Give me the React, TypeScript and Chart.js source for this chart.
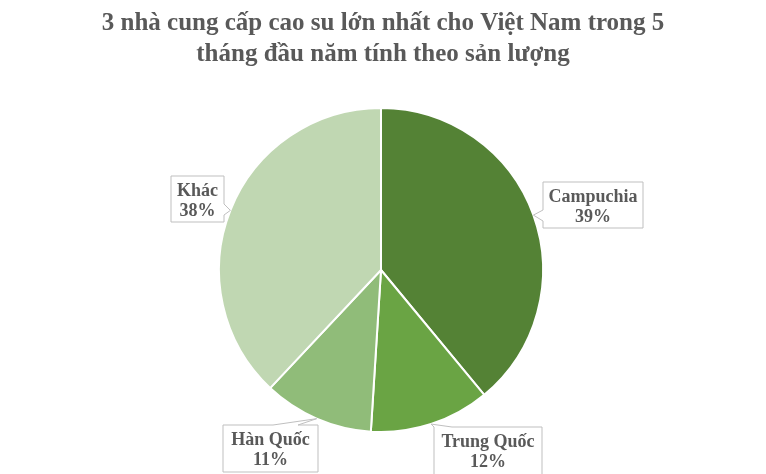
import { useEffect, useRef } from "react";
import { Chart, registerables } from "chart.js";

Chart.register(...registerables);

const titleLines = [
  "3 nhà cung cấp cao su lớn nhất cho Việt Nam trong 5",
  "tháng đầu năm tính theo sản lượng",
];
const labels = ["Campuchia", "Trung Quốc", "Hàn Quốc", "Khác"];
const shares = [39, 12, 11, 38];
const colors = ["#548235", "#6aa444", "#90bc79", "#c0d7b2"];

const TEXT = "#595959";
const SERIF = '"Liberation Serif", "Times New Roman", serif';

// callout boxes: rect + where the pointer leaves the box
const boxes = [
  { l: 543, t: 182, r: 643, b: 228, side: "left", a: 210, c: 221 },
  { l: 434, t: 427, r: 542, b: 476, side: "top", a: 434, c: 452 },
  { l: 223, t: 425, r: 318, b: 472, side: "top", a: 273, c: 298 },
  { l: 171, t: 176, r: 224, b: 222, side: "right", a: 204, c: 215 },
];

const calloutPlugin = {
  id: "callouts",
  afterDraw(chart: any) {
    const ctx = chart.ctx;
    const meta = chart.getDatasetMeta(0);
    ctx.save();
    // title
    ctx.fillStyle = TEXT;
    ctx.font = `bold 25px ${SERIF}`;
    ctx.textAlign = "center";
    ctx.textBaseline = "alphabetic";
    titleLines.forEach((line, i) => ctx.fillText(line, 383, 30 + i * 30.5));

    meta.data.forEach((arc: any, i: number) => {
      const bx = boxes[i];
      const mid = (arc.startAngle + arc.endAngle) / 2;
      const tx = arc.x + Math.cos(mid) * arc.outerRadius;
      const ty = arc.y + Math.sin(mid) * arc.outerRadius;
      ctx.beginPath();
      if (bx.side === "left") {
        ctx.moveTo(bx.l, bx.t);
        ctx.lineTo(bx.r, bx.t);
        ctx.lineTo(bx.r, bx.b);
        ctx.lineTo(bx.l, bx.b);
        ctx.lineTo(bx.l, bx.c);
        ctx.lineTo(tx, ty);
        ctx.lineTo(bx.l, bx.a);
      } else if (bx.side === "right") {
        ctx.moveTo(bx.l, bx.t);
        ctx.lineTo(bx.r, bx.t);
        ctx.lineTo(bx.r, bx.a);
        ctx.lineTo(tx, ty);
        ctx.lineTo(bx.r, bx.c);
        ctx.lineTo(bx.r, bx.b);
        ctx.lineTo(bx.l, bx.b);
      } else {
        ctx.moveTo(bx.l, bx.t);
        ctx.lineTo(bx.a, bx.t);
        ctx.lineTo(tx, ty);
        ctx.lineTo(bx.c, bx.t);
        ctx.lineTo(bx.r, bx.t);
        ctx.lineTo(bx.r, bx.b);
        ctx.lineTo(bx.l, bx.b);
      }
      ctx.closePath();
      ctx.fillStyle = "#ffffff";
      ctx.fill();
      ctx.strokeStyle = "#bfbfbf";
      ctx.lineWidth = 1;
      ctx.stroke();

      const cx = (bx.l + bx.r) / 2;
      ctx.fillStyle = TEXT;
      ctx.font = `bold 18px ${SERIF}`;
      ctx.fillText(chart.data.labels[i], cx, bx.t + 20);
      ctx.fillText(`${chart.data.datasets[0].data[i]}%`, cx, bx.t + 40);
    });
    ctx.restore();
  },
};

const App = () => {
  const chartRef = useRef<HTMLCanvasElement | null>(null);

  useEffect(() => {
    document.body.style.margin = "0";
    if (!chartRef.current) return;
    const chartInstance = new Chart(chartRef.current, {
      type: "pie",
      data: {
        labels: labels,
        datasets: [
          {
            data: shares,
            backgroundColor: colors,
            borderColor: "#ffffff",
            borderWidth: 2,
            hoverOffset: 0,
          },
        ],
      },
      options: {
        responsive: true,
        maintainAspectRatio: false,
        animation: false,
        layout: { padding: { top: 107, bottom: 41, left: 0, right: 4 } },
        plugins: {
          legend: { display: false },
          tooltip: { enabled: false },
        },
      },
      plugins: [calloutPlugin],
    });

    return () => {
      chartInstance.destroy();
    };
  }, []);

  return (
    <div style={{ width: 766, height: 474, position: "relative" }}>
      <canvas ref={chartRef} />
    </div>
  );
};

export default App;
